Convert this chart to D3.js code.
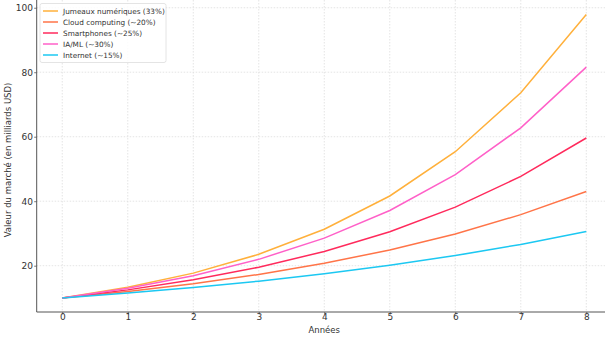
<!DOCTYPE html>
<html><head><meta charset="utf-8">
<script src="https://cdn.jsdelivr.net/npm/d3@7"></script>
<style>body{margin:0;background:#fff}svg{display:block}text{font-family:"DejaVu Sans",sans-serif}</style>
</head><body><svg id="c" width="605" height="337"></svg>
<script>
const years = [0,1,2,3,4,5,6,7,8];
const seriesNames = ["Jumeaux numériques (33%)","Cloud computing (~20%)","Smartphones (~25%)","IA/ML (~30%)","Internet (~15%)"];
const seriesColors = ["#FFB03B","#FF7448","#FF2A5C","#FF60C8","#1CC8F2"];
const jumeaux = [10,13.3,17.69,23.53,31.29,41.62,55.35,73.62,97.91];
const cloud = [10,12,14.4,17.28,20.74,24.88,29.86,35.83,43.0];
const smartphones = [10,12.5,15.63,19.53,24.41,30.52,38.15,47.68,59.6];
const iaml = [10,13,16.9,21.97,28.56,37.13,48.27,62.75,81.57];
const internet = [10,11.5,13.23,15.21,17.49,20.11,23.13,26.6,30.59];
const xTicks = [0,1,2,3,4,5,6,7,8];
const yTicks = [20,40,60,80,100];
const allSeries = [jumeaux,cloud,smartphones,iaml,internet];

const svg = d3.select("#c");
const x = d3.scaleLinear().domain([-0.39,8.4]).range([36.7,612.5]);
const y = d3.scaleLinear().domain([5.64,102.4]).range([312,0]);

// grid
const g = svg.append("g");
g.selectAll(".gx").data(xTicks).enter().append("line")
 .attr("x1",d=>x(d)).attr("x2",d=>x(d)).attr("y1",0).attr("y2",312)
 .attr("stroke","#ddd").attr("stroke-width",0.8).attr("stroke-dasharray","1.5,1.5");
g.selectAll(".gy").data(yTicks).enter().append("line")
 .attr("x1",36.7).attr("x2",605).attr("y1",d=>y(d)).attr("y2",d=>y(d))
 .attr("stroke","#ddd").attr("stroke-width",0.8).attr("stroke-dasharray","1.5,1.5");

// lines
const line = d3.line().x((d,i)=>x(years[i])).y(d=>y(d));
allSeries.forEach((s,i)=>{
  svg.append("path").datum(s).attr("d",line).attr("fill","none")
   .attr("stroke",seriesColors[i]).attr("stroke-width",1.5);
});

// axes
const xa = svg.append("g").attr("transform","translate(0,312)")
 .call(d3.axisBottom(x).tickValues(xTicks).tickSize(2.5).tickFormat(d3.format("d")));
xa.select(".domain").attr("d","M36.7,0H605");
xa.selectAll(".tick text").attr("y",1.8);
const ya = svg.append("g").attr("transform","translate(36.7,0)")
 .call(d3.axisLeft(y).tickValues(yTicks).tickSize(2.5).tickPadding(1.3).tickFormat(d3.format("d")));
ya.select(".domain").attr("d","M0,0V312");
[xa,ya].forEach(a=>{
  a.selectAll(".domain").attr("stroke","#555").attr("stroke-width",1);
  a.selectAll(".tick line").attr("stroke","#555").attr("stroke-width",0.8);
  a.selectAll("text").attr("fill","#333").style("font-size","9px").style("font-family","DejaVu Sans");
});

svg.append("text").attr("x",x(4)).attr("y",333).attr("text-anchor","middle")
 .attr("fill","#333").style("font-size","8.5px").text("Années");
svg.append("text").attr("transform","translate(11,160) rotate(-90)").attr("text-anchor","middle")
 .attr("fill","#333").style("font-size","8.5px").text("Valeur du marché (en milliards USD)");

// legend
const lg = svg.append("g");
lg.append("rect").attr("x",40).attr("y",3.5).attr("width",126).attr("height",59).attr("rx",2)
 .attr("fill","#fff").attr("fill-opacity",0.85).attr("stroke","#ddd").attr("stroke-width",0.8);
seriesNames.forEach((n,i)=>{
  const yy = 11 + i*11;
  lg.append("line").attr("x1",43).attr("x2",58).attr("y1",yy).attr("y2",yy)
   .attr("stroke",seriesColors[i]).attr("stroke-width",1.5);
  lg.append("text").attr("x",63).attr("y",yy+2.7).attr("fill","#333")
   .style("font-size","7.3px").text(n);
});
</script></body></html>
